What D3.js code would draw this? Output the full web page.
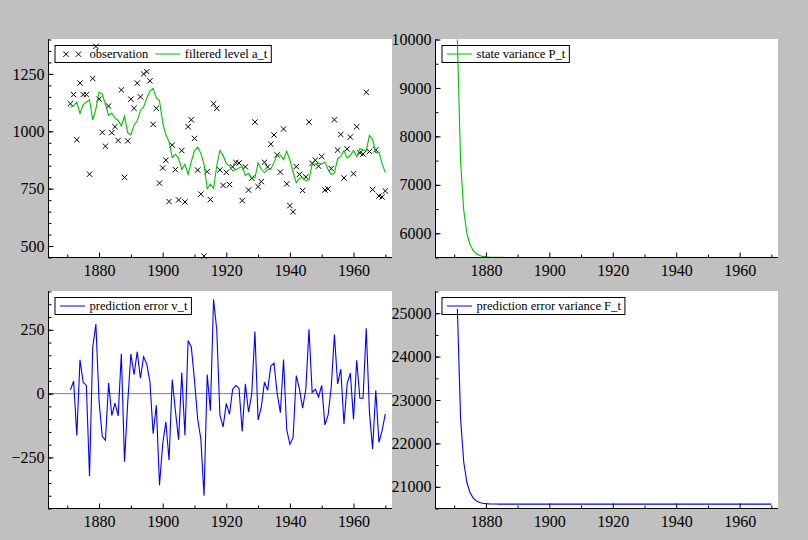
<!DOCTYPE html>
<html>
<head>
<meta charset="utf-8">
<script src="https://cdn.jsdelivr.net/npm/d3@7"></script>
<style>
html, body { margin: 0; padding: 0; background: #c0c0c0; }
svg { display: block; }
text { font-family: "Liberation Serif", "Times New Roman", serif; fill: #000; }
</style>
</head>
<body>
<svg id="chart" width="808" height="540"></svg>
<script>
// Nile flow, local level model output
let years = d3.range(1871, 1971);

let observation = [
    1120, 1160, 963, 1210, 1160, 1160, 813, 1230, 1370, 1140,
    995, 935, 1110, 994, 1020, 960, 1180, 799, 958, 1140,
    1100, 1210, 1150, 1250, 1260, 1220, 1030, 1100, 774, 840,
    874, 694, 940, 833, 701, 916, 692, 1020, 1050, 969,
    831, 726, 456, 824, 702, 1120, 1100, 832, 764, 821,
    768, 845, 864, 862, 698, 845, 744, 796, 1040, 759,
    781, 865, 845, 944, 984, 897, 822, 1010, 771, 676,
    649, 846, 812, 742, 801, 1040, 860, 874, 848, 890,
    744, 749, 838, 1050, 918, 986, 797, 923, 975, 815,
    1020, 906, 901, 1170, 912, 746, 919, 718, 714, 740
];

let level = [
    1105.0, 1111.0, 1127.2, 1077.9, 1115.5, 1127.8, 1136.6, 1049.3, 1097.8, 1170.7,
    1162.5, 1117.7, 1068.9, 1079.9, 1057.0, 1047.1, 1023.8, 1065.5, 994.3, 984.6,
    1026.1, 1045.8, 1089.7, 1105.8, 1144.3, 1175.2, 1187.2, 1145.2, 1133.1, 1037.2,
    984.5, 955.0, 885.3, 899.9, 882.0, 833.7, 855.7, 812.0, 867.5, 916.3,
    930.3, 903.8, 856.3, 749.4, 769.3, 751.3, 849.8, 916.7, 894.0, 859.3,
    849.1, 827.4, 832.1, 840.6, 846.4, 806.7, 817.0, 797.5, 797.1, 862.0,
    834.4, 820.2, 832.1, 835.6, 864.5, 896.5, 896.6, 876.7, 912.3, 874.5,
    821.5, 775.4, 794.3, 799.0, 783.8, 788.4, 855.6, 856.8, 861.4, 857.8,
    866.4, 833.7, 811.1, 818.3, 880.2, 890.3, 915.8, 884.1, 894.5, 916.0,
    889.0, 924.0, 919.2, 914.3, 982.6, 963.8, 905.6, 909.2, 858.1, 819.6
];

let state_var = [
    10000, 7484.9, 6473.3, 6000.0, 5762.9, 5640.0, 5575.3, 5540.9, 5522.5, 5512.6,
    5507.4, 5504.5, 5503.0, 5502.2, 5501.8, 5501.5, 5501.4, 5501.3, 5501.3, 5501.3,
    5501.3, 5501.3, 5501.3, 5501.3, 5501.3, 5501.3, 5501.3, 5501.3, 5501.3, 5501.3,
    5501.3, 5501.3, 5501.3, 5501.3, 5501.3, 5501.3, 5501.3, 5501.3, 5501.3, 5501.3,
    5501.3, 5501.3, 5501.3, 5501.3, 5501.3, 5501.3, 5501.3, 5501.3, 5501.3, 5501.3,
    5501.3, 5501.3, 5501.3, 5501.3, 5501.3, 5501.3, 5501.3, 5501.3, 5501.3, 5501.3,
    5501.3, 5501.3, 5501.3, 5501.3, 5501.3, 5501.3, 5501.3, 5501.3, 5501.3, 5501.3,
    5501.3, 5501.3, 5501.3, 5501.3, 5501.3, 5501.3, 5501.3, 5501.3, 5501.3, 5501.3,
    5501.3, 5501.3, 5501.3, 5501.3, 5501.3, 5501.3, 5501.3, 5501.3, 5501.3, 5501.3,
    5501.3, 5501.3, 5501.3, 5501.3, 5501.3, 5501.3, 5501.3, 5501.3, 5501.3, 5501.3
];

let pred_err = [
    15.0, 49.0, -164.2, 132.1, 44.5, 32.2, -323.6, 180.7, 272.2, -30.7,
    -167.5, -182.7, 41.1, -85.9, -37.0, -87.1, 156.2, -266.5, -36.3, 155.4,
    73.9, 164.2, 60.3, 144.2, 115.7, 44.8, -157.2, -45.2, -359.1, -197.2,
    -110.5, -261.0, 54.7, -66.9, -181.0, 82.3, -163.7, 208.0, 182.5, 52.7,
    -99.3, -177.8, -400.3, 74.6, -67.3, 368.7, 250.2, -84.7, -130.0, -38.3,
    -81.1, 17.6, 31.9, 21.4, -148.4, 38.3, -73.0, -1.5, 242.9, -103.0,
    -53.4, 44.8, 12.9, 108.4, 119.5, 0.5, -74.6, 133.3, -141.3, -198.5,
    -172.5, 70.6, 17.7, -57.0, 17.2, 251.6, 4.4, 17.2, -13.4, 32.2,
    -122.4, -84.7, 26.9, 231.7, 37.8, 95.7, -118.8, 38.9, 80.5, -101.0,
    131.0, -18.0, -18.2, 255.7, -70.6, -217.8, 13.4, -191.2, -144.1, -79.6
];

let pred_err_var = [
    25099, 22583.9, 21572.3, 21099.0, 20861.9, 20739.0, 20674.3, 20639.9, 20621.5, 20611.6,
    20606.4, 20603.5, 20602.0, 20601.2, 20600.8, 20600.5, 20600.4, 20600.3, 20600.3, 20600.3,
    20600.3, 20600.3, 20600.3, 20600.3, 20600.3, 20600.3, 20600.3, 20600.3, 20600.3, 20600.3,
    20600.3, 20600.3, 20600.3, 20600.3, 20600.3, 20600.3, 20600.3, 20600.3, 20600.3, 20600.3,
    20600.3, 20600.3, 20600.3, 20600.3, 20600.3, 20600.3, 20600.3, 20600.3, 20600.3, 20600.3,
    20600.3, 20600.3, 20600.3, 20600.3, 20600.3, 20600.3, 20600.3, 20600.3, 20600.3, 20600.3,
    20600.3, 20600.3, 20600.3, 20600.3, 20600.3, 20600.3, 20600.3, 20600.3, 20600.3, 20600.3,
    20600.3, 20600.3, 20600.3, 20600.3, 20600.3, 20600.3, 20600.3, 20600.3, 20600.3, 20600.3,
    20600.3, 20600.3, 20600.3, 20600.3, 20600.3, 20600.3, 20600.3, 20600.3, 20600.3, 20600.3,
    20600.3, 20600.3, 20600.3, 20600.3, 20600.3, 20600.3, 20600.3, 20600.3, 20600.3, 20600.3
];

let x_major = [1880, 1900, 1920, 1940, 1960];
let x_minor = [1870, 1890, 1910, 1930, 1950, 1970];

let GREEN = "#00c000";
let BLUE = "#0000ff";

let svg = d3.select("#chart");

function draw_panel(p) {
    let g = svg.append("g");
    g.append("rect")
        .attr("x", p.left).attr("y", p.top)
        .attr("width", p.right - p.left).attr("height", p.bottom - p.top)
        .attr("fill", "#fff");

    let x = d3.scaleLinear().domain([1864.1, 1972.1]).range([p.left + 0.5, p.right]);
    let y = d3.scaleLinear().domain(p.ydom).range([p.bottom - 0.5, p.top + 0.5]);

    // legend box (data are drawn over it)
    let lg = g.append("g");
    let lx = p.left + 7, ly = p.top + 6.5;
    let box = lg.append("rect")
        .attr("x", lx).attr("y", ly).attr("height", 17)
        .attr("fill", "#fff").attr("stroke", "#000").attr("stroke-width", 1);
    let cx = lx;
    p.legend.forEach(item => {
        if (item.kind == "cross") {
            [cx + 11, cx + 23.5].forEach(mx => {
                lg.append("path")
                    .attr("d", `M${mx-2.7},${ly+6}L${mx+2.7},${ly+11.4}M${mx-2.7},${ly+11.4}L${mx+2.7},${ly+6}`)
                    .attr("stroke", "#000").attr("stroke-width", 1);
            });
        } else {
            lg.append("line")
                .attr("x1", cx + 5).attr("x2", cx + 30)
                .attr("y1", ly + 8.5).attr("y2", ly + 8.5)
                .attr("stroke", item.color).attr("stroke-width", 1);
        }
        let t = lg.append("text")
            .attr("x", cx + 34.5).attr("y", ly + 12.6)
            .style("font-size", "12.6px")
            .text(item.label);
        cx = cx + 34.5 + t.node().getComputedTextLength() + 2;
    });
    box.attr("width", cx - lx + 2);

    if (p.zero) {
        g.append("line")
            .attr("x1", p.left).attr("x2", p.right)
            .attr("y1", y(0)).attr("y2", y(0))
            .attr("stroke", "#808080").attr("stroke-width", 1);
    }

    p.series.forEach(s => {
        if (s.kind == "cross") {
            g.append("g").selectAll("path")
                .data(years.map((yr, i) => [yr, s.values[i]]))
                .join("path")
                .attr("d", d => {
                    let px = x(d[0]), py = y(d[1]);
                    return `M${px-2.7},${py-2.7}L${px+2.7},${py+2.7}M${px-2.7},${py+2.7}L${px+2.7},${py-2.7}`;
                })
                .attr("stroke", "#000").attr("stroke-width", 1).attr("fill", "none");
        } else {
            let line = d3.line()
                .x(d => x(d[0]))
                .y(d => y(d[1]));
            g.append("path")
                .datum(years.map((yr, i) => [yr, s.values[i]]))
                .attr("fill", "none")
                .attr("stroke", s.color)
                .attr("stroke-width", 1.1)
                .attr("d", line);
        }
    });

    // axes: ticks point inward
    let xa = g.append("g").attr("transform", `translate(0,${p.bottom - 0.5})`);
    xa.call(d3.axisBottom(x).tickValues(x_major).tickSize(-5).tickSizeOuter(0).tickPadding(7).tickFormat(d3.format("d")));
    xa.append("g").call(d3.axisBottom(x).tickValues(x_minor).tickSize(-3).tickFormat(""))
        .select(".domain").remove();
    xa.select(".domain").attr("d", `M${p.left},0H${p.right}`);

    let ya = g.append("g").attr("transform", `translate(${p.left + 0.5},0)`);
    ya.call(d3.axisLeft(y).tickValues(p.ymajor).tickSize(-5).tickSizeOuter(0).tickPadding(4)
        .tickFormat(d => d < 0 ? "\u2212" + Math.abs(d) : String(d)));
    ya.append("g").call(d3.axisLeft(y).tickValues(p.yminor).tickSize(-3).tickFormat(""))
        .select(".domain").remove();
    ya.select(".domain").attr("d", `M0,${p.top}V${p.bottom}`);

    g.selectAll(".tick text").style("font-size", "16px").attr("font-family", null);
    g.selectAll(".tick line, .domain").attr("stroke", "#000");
}

draw_panel({
    left: 48, right: 392, top: 39, bottom: 258,
    ydom: [450, 1400],
    ymajor: [500, 750, 1000, 1250],
    yminor: d3.range(450, 1401, 50),
    legend: [
        {kind: "cross", label: "observation"},
        {kind: "line", color: GREEN, label: "filtered level a_t"}
    ],
    series: [
        {kind: "cross", values: observation},
        {kind: "line", color: GREEN, values: level}
    ]
});

draw_panel({
    left: 435, right: 778, top: 39, bottom: 258,
    ydom: [5500, 10000],
    ymajor: [6000, 7000, 8000, 9000, 10000],
    yminor: d3.range(5500, 10001, 500),
    legend: [{kind: "line", color: GREEN, label: "state variance P_t"}],
    series: [{kind: "line", color: GREEN, values: state_var}]
});

draw_panel({
    left: 48, right: 392, top: 291, bottom: 509,
    ydom: [-450, 400],
    ymajor: [-250, 0, 250],
    yminor: d3.range(-450, 401, 50),
    zero: true,
    legend: [{kind: "line", color: BLUE, label: "prediction error v_t"}],
    series: [{kind: "line", color: BLUE, values: pred_err}]
});

draw_panel({
    left: 435, right: 778, top: 291, bottom: 509,
    ydom: [20500, 25500],
    ymajor: [21000, 22000, 23000, 24000, 25000],
    yminor: d3.range(20500, 25501, 500),
    legend: [{kind: "line", color: BLUE, label: "prediction error variance F_t"}],
    series: [{kind: "line", color: BLUE, values: pred_err_var}]
});
</script>
</body>
</html>
